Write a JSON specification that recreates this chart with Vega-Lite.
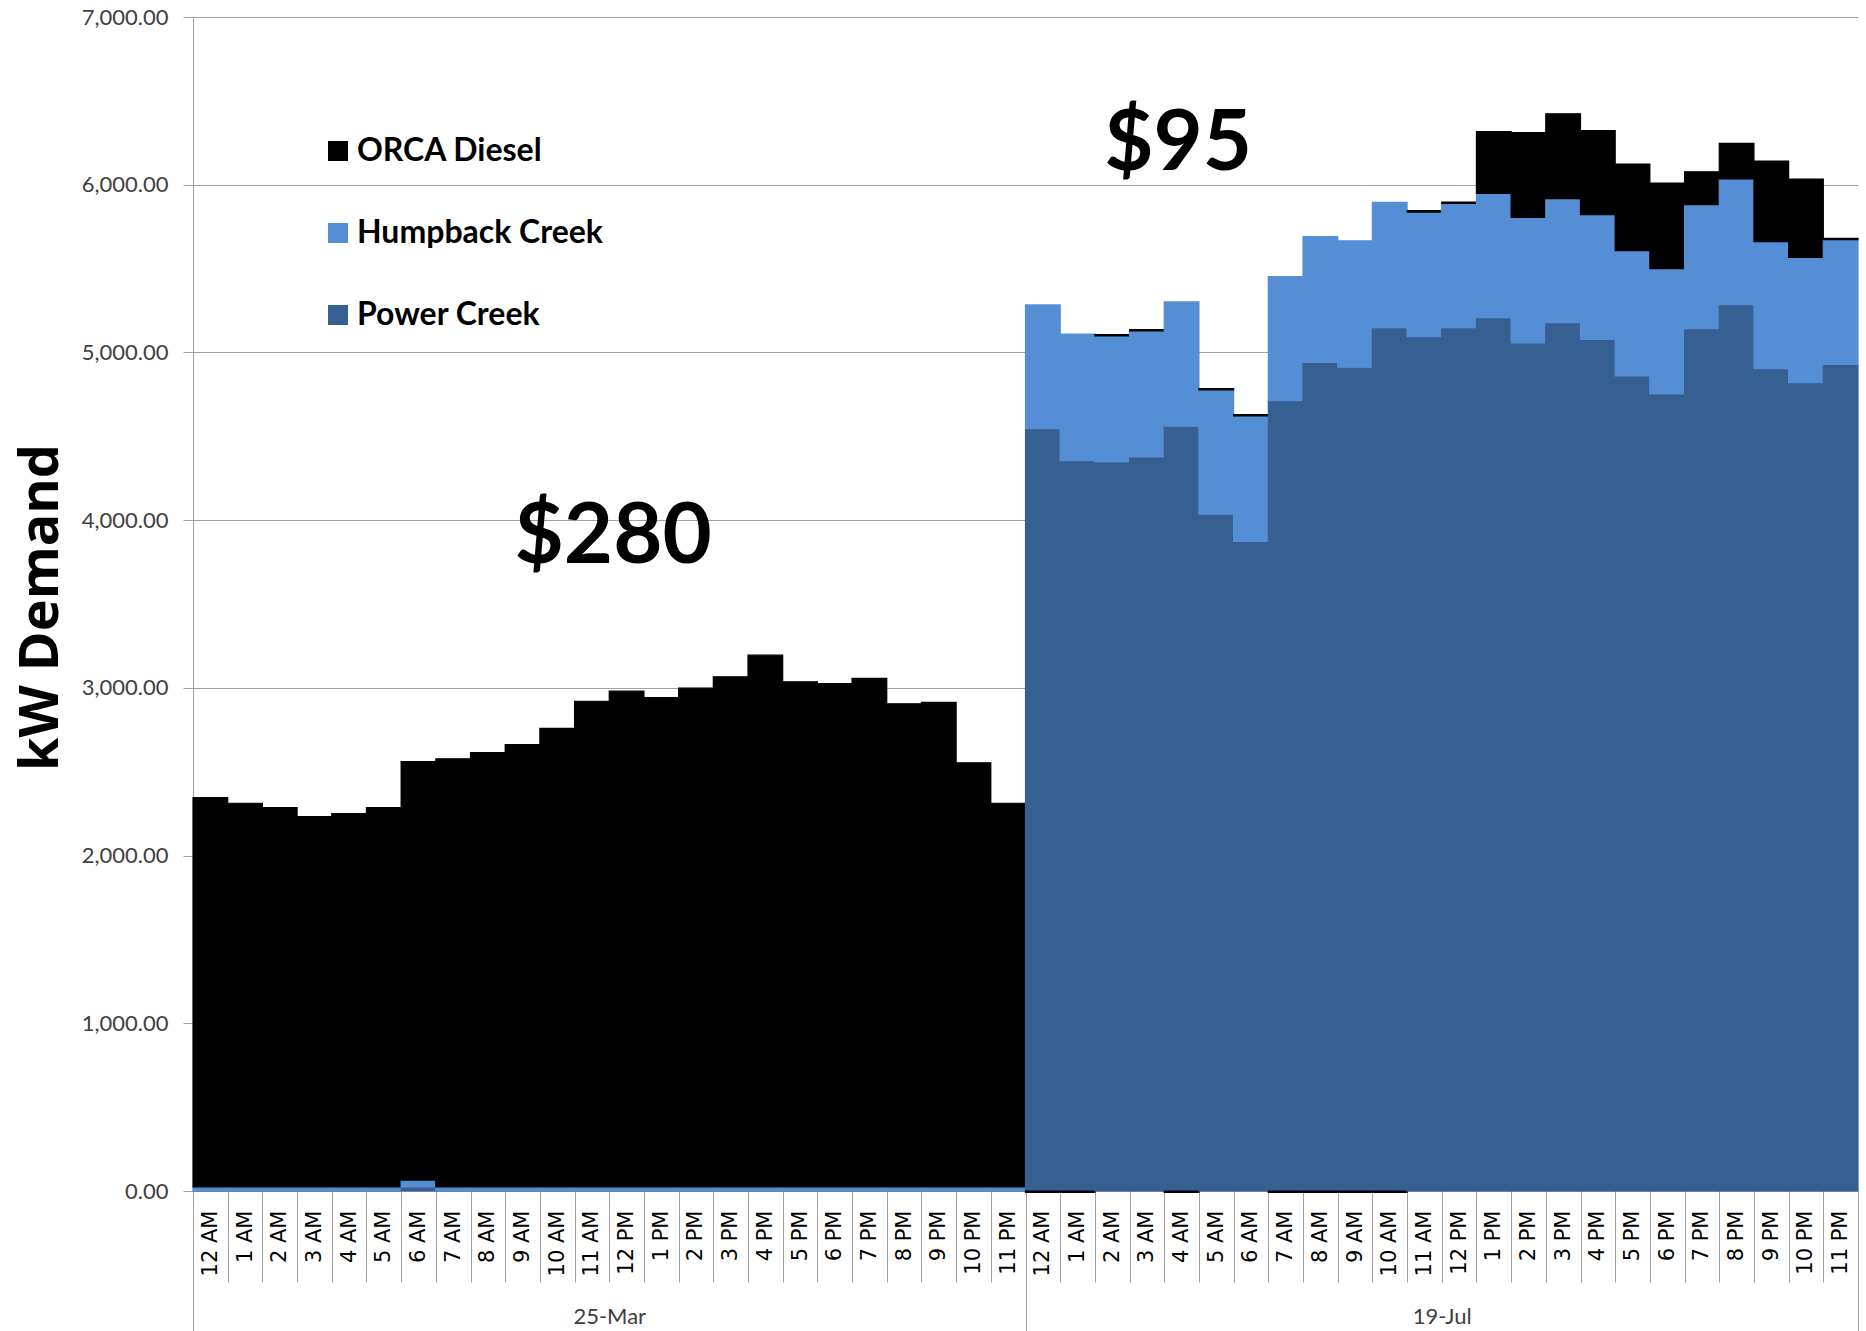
{
  "$schema": "https://vega.github.io/schema/vega-lite/v6.json",
  "width": 1665,
  "height": 1174,
  "autosize": {"type": "none"},
  "padding": {"left": 193, "top": 17, "right": 8, "bottom": 140},
  "background": "white",
  "config": {"view": {"stroke": null}, "font": "Lato"},
  "datasets": {
    "hourly": [
      {"date": "25-Mar", "hour": "12 AM", "Power Creek": 0, "Humpback Creek": 25, "ORCA Diesel": 2321},
      {"date": "25-Mar", "hour": "1 AM", "Power Creek": 0, "Humpback Creek": 25, "ORCA Diesel": 2287},
      {"date": "25-Mar", "hour": "2 AM", "Power Creek": 0, "Humpback Creek": 25, "ORCA Diesel": 2261},
      {"date": "25-Mar", "hour": "3 AM", "Power Creek": 0, "Humpback Creek": 25, "ORCA Diesel": 2208},
      {"date": "25-Mar", "hour": "4 AM", "Power Creek": 0, "Humpback Creek": 25, "ORCA Diesel": 2225},
      {"date": "25-Mar", "hour": "5 AM", "Power Creek": 0, "Humpback Creek": 25, "ORCA Diesel": 2261},
      {"date": "25-Mar", "hour": "6 AM", "Power Creek": 25, "Humpback Creek": 40, "ORCA Diesel": 2496},
      {"date": "25-Mar", "hour": "7 AM", "Power Creek": 0, "Humpback Creek": 25, "ORCA Diesel": 2552},
      {"date": "25-Mar", "hour": "8 AM", "Power Creek": 0, "Humpback Creek": 25, "ORCA Diesel": 2589},
      {"date": "25-Mar", "hour": "9 AM", "Power Creek": 0, "Humpback Creek": 25, "ORCA Diesel": 2637},
      {"date": "25-Mar", "hour": "10 AM", "Power Creek": 0, "Humpback Creek": 25, "ORCA Diesel": 2734},
      {"date": "25-Mar", "hour": "11 AM", "Power Creek": 0, "Humpback Creek": 25, "ORCA Diesel": 2895},
      {"date": "25-Mar", "hour": "12 PM", "Power Creek": 0, "Humpback Creek": 25, "ORCA Diesel": 2955},
      {"date": "25-Mar", "hour": "1 PM", "Power Creek": 0, "Humpback Creek": 25, "ORCA Diesel": 2917},
      {"date": "25-Mar", "hour": "2 PM", "Power Creek": 0, "Humpback Creek": 25, "ORCA Diesel": 2973},
      {"date": "25-Mar", "hour": "3 PM", "Power Creek": 0, "Humpback Creek": 25, "ORCA Diesel": 3041},
      {"date": "25-Mar", "hour": "4 PM", "Power Creek": 0, "Humpback Creek": 25, "ORCA Diesel": 3170},
      {"date": "25-Mar", "hour": "5 PM", "Power Creek": 0, "Humpback Creek": 25, "ORCA Diesel": 3011},
      {"date": "25-Mar", "hour": "6 PM", "Power Creek": 0, "Humpback Creek": 25, "ORCA Diesel": 3001},
      {"date": "25-Mar", "hour": "7 PM", "Power Creek": 0, "Humpback Creek": 25, "ORCA Diesel": 3031},
      {"date": "25-Mar", "hour": "8 PM", "Power Creek": 0, "Humpback Creek": 25, "ORCA Diesel": 2880},
      {"date": "25-Mar", "hour": "9 PM", "Power Creek": 0, "Humpback Creek": 25, "ORCA Diesel": 2888},
      {"date": "25-Mar", "hour": "10 PM", "Power Creek": 0, "Humpback Creek": 25, "ORCA Diesel": 2528},
      {"date": "25-Mar", "hour": "11 PM", "Power Creek": 0, "Humpback Creek": 25, "ORCA Diesel": 2287},
      {"date": "19-Jul", "hour": "12 AM", "Power Creek": 4546, "Humpback Creek": 737, "ORCA Diesel": -8},
      {"date": "19-Jul", "hour": "1 AM", "Power Creek": 4354, "Humpback Creek": 756, "ORCA Diesel": -8},
      {"date": "19-Jul", "hour": "2 AM", "Power Creek": 4348, "Humpback Creek": 750, "ORCA Diesel": 8},
      {"date": "19-Jul", "hour": "3 AM", "Power Creek": 4377, "Humpback Creek": 751, "ORCA Diesel": 8},
      {"date": "19-Jul", "hour": "4 AM", "Power Creek": 4560, "Humpback Creek": 741, "ORCA Diesel": -8},
      {"date": "19-Jul", "hour": "5 AM", "Power Creek": 4036, "Humpback Creek": 741, "ORCA Diesel": 8},
      {"date": "19-Jul", "hour": "6 AM", "Power Creek": 3873, "Humpback Creek": 749, "ORCA Diesel": 8},
      {"date": "19-Jul", "hour": "7 AM", "Power Creek": 4713, "Humpback Creek": 739, "ORCA Diesel": -8},
      {"date": "19-Jul", "hour": "8 AM", "Power Creek": 4941, "Humpback Creek": 749, "ORCA Diesel": -8},
      {"date": "19-Jul", "hour": "9 AM", "Power Creek": 4912, "Humpback Creek": 754, "ORCA Diesel": -8},
      {"date": "19-Jul", "hour": "10 AM", "Power Creek": 5148, "Humpback Creek": 747, "ORCA Diesel": -8},
      {"date": "19-Jul", "hour": "11 AM", "Power Creek": 5094, "Humpback Creek": 743, "ORCA Diesel": 8},
      {"date": "19-Jul", "hour": "12 PM", "Power Creek": 5148, "Humpback Creek": 741, "ORCA Diesel": 8},
      {"date": "19-Jul", "hour": "1 PM", "Power Creek": 5208, "Humpback Creek": 740, "ORCA Diesel": 368},
      {"date": "19-Jul", "hour": "2 PM", "Power Creek": 5057, "Humpback Creek": 748, "ORCA Diesel": 505},
      {"date": "19-Jul", "hour": "3 PM", "Power Creek": 5178, "Humpback Creek": 739, "ORCA Diesel": 506},
      {"date": "19-Jul", "hour": "4 PM", "Power Creek": 5078, "Humpback Creek": 743, "ORCA Diesel": 501},
      {"date": "19-Jul", "hour": "5 PM", "Power Creek": 4860, "Humpback Creek": 747, "ORCA Diesel": 516},
      {"date": "19-Jul", "hour": "6 PM", "Power Creek": 4753, "Humpback Creek": 747, "ORCA Diesel": 510},
      {"date": "19-Jul", "hour": "7 PM", "Power Creek": 5142, "Humpback Creek": 739, "ORCA Diesel": 196},
      {"date": "19-Jul", "hour": "8 PM", "Power Creek": 5285, "Humpback Creek": 749, "ORCA Diesel": 212},
      {"date": "19-Jul", "hour": "9 PM", "Power Creek": 4904, "Humpback Creek": 756, "ORCA Diesel": 481},
      {"date": "19-Jul", "hour": "10 PM", "Power Creek": 4820, "Humpback Creek": 747, "ORCA Diesel": 467},
      {"date": "19-Jul", "hour": "11 PM", "Power Creek": 4928, "Humpback Creek": 744, "ORCA Diesel": 8}
    ],
    "notes": [
      {"date": "25-Mar", "hour": "9 AM", "label": "$280", "kW": 3745},
      {"date": "19-Jul", "hour": "2 AM", "label": "$95", "kW": 6088}
    ],
    "days": [{"date": "25-Mar"}, {"date": "19-Jul"}]
  },
  "layer": [
    {
      "layer": [
        {
          "data": {"name": "hourly"},
          "transform": [
            {"fold": ["Power Creek", "Humpback Creek", "ORCA Diesel"], "as": ["source", "kW"]},
            {"calculate": "datum.date + '|' + datum.hour", "as": "slot"},
            {"calculate": "indexof(['Power Creek','Humpback Creek','ORCA Diesel'], datum.source)", "as": "stackOrder"}
          ],
          "mark": {"type": "bar", "strokeWidth": 1.2},
          "encoding": {
            "x": {
              "field": "slot", "type": "ordinal", "sort": null,
              "scale": {"type": "band", "paddingInner": 0, "paddingOuter": 0},
              "axis": {
                "title": null,
                "labelExpr": "split(datum.value, '|')[1]",
                "labelAngle": -90, "labelAlign": "right", "labelBaseline": "middle",
                "labelFont": "DejaVu Sans", "labelFontSize": 21, "labelColor": "#000000",
                "labelPadding": -72, "labelOverlap": false, "labelLimit": 200,
                "tickBand": "extent", "tickSize": 91, "tickColor": "#A0A0A0", "tickWidth": 1,
                "domainColor": "#A0A0A0", "grid": false, "zindex": 0
              }
            },
            "y": {
              "field": "kW", "type": "quantitative", "stack": "zero",
              "scale": {"domain": [0, 7000], "nice": false},
              "axis": {
                "title": "kW Demand", "titleFont": "Open Sans", "titleFontSize": 54, "titleFontWeight": "bold",
                "titleColor": "#000000", "titleAngle": -90, "titleX": -152, "titleY": 590,
                "titleAlign": "center", "titleBaseline": "middle",
                "values": [0, 1000, 2000, 3000, 4000, 5000, 6000, 7000],
                "format": ",.2f", "labelFont": "Lato", "labelFontSize": 22, "labelColor": "#404040",
                "labelPadding": 15, "tickSize": 10, "tickColor": "#A0A0A0",
                "domainColor": "#A0A0A0", "grid": true, "gridColor": "#A0A0A0", "gridWidth": 1
              }
            },
            "color": {
              "field": "source", "type": "nominal",
              "scale": {"domain": ["ORCA Diesel", "Humpback Creek", "Power Creek"], "range": ["#000000", "#558ED5", "#376092"]},
              "legend": {
                "title": null, "orient": "none", "legendX": 129, "legendY": 118,
                "symbolType": "square", "symbolSize": 400, "symbolStrokeWidth": 0,
                "labelFont": "Lato", "labelFontSize": 32, "labelFontWeight": "bold", "labelColor": "#000000",
                "labelOffset": 3, "rowPadding": 50, "padding": 0, "labelLimit": 400
              }
            },
            "stroke": {
              "field": "source", "type": "nominal",
              "scale": {"domain": ["ORCA Diesel", "Humpback Creek", "Power Creek"], "range": ["#000000", "#558ED5", "#376092"]},
              "legend": null
            },
            "order": {"field": "stackOrder", "type": "quantitative"}
          }
        },
        {
          "data": {"name": "notes"},
          "transform": [{"calculate": "datum.date + '|' + datum.hour", "as": "slot"}],
          "mark": {"type": "text", "font": "Lato", "fontSize": 85, "fontWeight": "bold", "color": "#000000", "align": "left", "baseline": "alphabetic", "dx": -8},
          "encoding": {
            "x": {"field": "slot", "type": "ordinal", "sort": null},
            "y": {"field": "kW", "type": "quantitative"},
            "text": {"field": "label"}
          }
        }
      ]
    },
    {
      "data": {"name": "days"},
      "mark": {"type": "point", "opacity": 0},
      "encoding": {
        "x": {
          "field": "date", "type": "ordinal", "sort": null,
          "scale": {"type": "band", "paddingInner": 0, "paddingOuter": 0},
          "axis": {
            "orient": "bottom", "title": null, "labelAngle": 0,
            "tickBand": "extent", "tickSize": 140, "tickColor": "#A0A0A0",
            "domain": false, "labelFont": "Lato", "labelFontSize": 22, "labelColor": "#404040",
            "labelPadding": -25, "labelBaseline": "top", "labelAlign": "center"
          }
        }
      }
    }
  ],
  "resolve": {"scale": {"x": "independent"}, "axis": {"x": "independent"}}
}
